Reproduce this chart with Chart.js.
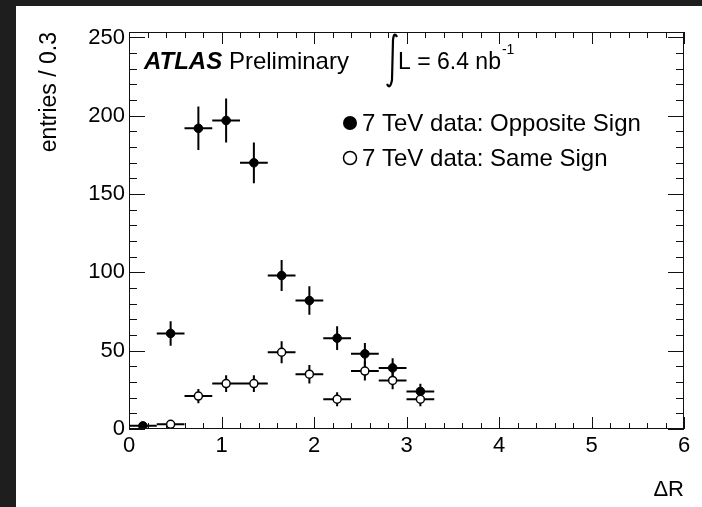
<!DOCTYPE html>
<html>
<head>
<meta charset="utf-8">
<script src="https://cdn.jsdelivr.net/npm/chart.js@4.4.1/dist/chart.umd.min.js"></script>
<style>
  html, body { margin: 0; padding: 0; background: #1e1e1e; overflow: hidden; }
  #c { position: absolute; left: 0; top: 0; }
</style>
</head>
<body>
<canvas id="c" width="702" height="507"></canvas>
<script>
// ΔR between the two leptons, entries per 0.3 bin
const binCenters   = [0.15, 0.45, 0.75, 1.05, 1.35, 1.65, 1.95, 2.25, 2.55, 2.85, 3.15];
const binHalfWidth = 0.15;
const oppositeSign    = [2, 61, 192, 197, 170, 98, 82, 58, 48, 39, 24];
const oppositeSignErr = [1.4, 7.8, 13.9, 14.0, 13.0, 9.9, 9.1, 7.6, 6.9, 6.2, 4.9];
const sameSign        = [null, 3, 21, 29, 29, 49, 35, 19, 37, 31, 19];
const sameSignErr     = [null, 1.7, 4.6, 5.4, 5.4, 7.0, 5.9, 4.4, 6.1, 5.6, 4.4];
const xTicks = [0, 1, 2, 3, 4, 5, 6];
const yTicks = [0, 50, 100, 150, 200, 250];
const seriesLabels = ['7 TeV data: Opposite Sign', '7 TeV data: Same Sign'];

const FONT = '"Liberation Sans", Arial, Helvetica, sans-serif';

function toPoints(values) {
  return binCenters.map((x, i) => ({ x: x, y: values[i] }));
}

// page backdrop: dark margin on the left and top, white pad elsewhere
const backdrop = {
  id: 'backdrop',
  beforeDraw(chart) {
    const ctx = chart.ctx;
    ctx.save();
    ctx.fillStyle = '#ffffff';
    ctx.fillRect(0, 0, chart.width, chart.height);
    ctx.fillStyle = '#1e1e1e';
    ctx.fillRect(0, 0, chart.width, 6);
    ctx.fillRect(0, 0, 16, chart.height);
    ctx.restore();
  }
};

// ROOT-style error bars: full bin width horizontally, ±err vertically
const errorBars = {
  id: 'errorBars',
  beforeDatasetsDraw(chart) {
    const ctx = chart.ctx;
    const xs = chart.scales.x, ys = chart.scales.y;
    ctx.save();
    ctx.strokeStyle = '#000';
    ctx.lineWidth = 2;
    chart.data.datasets.forEach(ds => {
      ds.data.forEach((p, i) => {
        if (p.y === null) return;
        const e = ds.errors[i];
        const cy = ys.getPixelForValue(p.y);
        const cx = xs.getPixelForValue(p.x);
        ctx.beginPath();
        ctx.moveTo(xs.getPixelForValue(p.x - binHalfWidth), cy);
        ctx.lineTo(xs.getPixelForValue(p.x + binHalfWidth), cy);
        ctx.moveTo(cx, ys.getPixelForValue(p.y - e));
        ctx.lineTo(cx, ys.getPixelForValue(p.y + e));
        ctx.stroke();
      });
    });
    ctx.restore();
  }
};

// frame, inward ticks on all four sides, and the text inside the pad
const frameAndText = {
  id: 'frameAndText',
  afterDraw(chart) {
    const ctx = chart.ctx;
    const { left, right, top, bottom } = chart.chartArea;
    const xs = chart.scales.x, ys = chart.scales.y;
    ctx.save();
    ctx.strokeStyle = '#111';
    ctx.lineWidth = 1;
    ctx.strokeRect(left + 0.5, top + 0.5, right - left - 1, bottom - top - 1);

    ctx.beginPath();
    // x axis: majors every 1, minors every 0.2
    for (let i = 0; i <= 30; i++) {
      const px = Math.round(xs.getPixelForValue(i * 0.2)) + 0.5;
      const len = (i % 5 === 0) ? 12 : 6;
      ctx.moveTo(px, bottom); ctx.lineTo(px, bottom - len);
      ctx.moveTo(px, top);    ctx.lineTo(px, top + len);
    }
    // y axis: majors every 50, minors every 10
    for (let i = 0; i <= 25; i++) {
      const py = Math.round(ys.getPixelForValue(i * 10)) + 0.5;
      const len = (i % 5 === 0) ? 16 : 8;
      ctx.moveTo(left, py);  ctx.lineTo(left + len, py);
      ctx.moveTo(right, py); ctx.lineTo(right - len, py);
    }
    ctx.stroke();

    // experiment label
    ctx.fillStyle = '#000';
    ctx.textBaseline = 'alphabetic';
    ctx.textAlign = 'left';
    ctx.font = 'italic bold 24px ' + FONT;
    ctx.fillText('ATLAS', 144, 69);
    const w = ctx.measureText('ATLAS ').width;
    ctx.font = '24px ' + FONT;
    ctx.fillText('Preliminary', 144 + w, 69);

    // integrated luminosity
    ctx.strokeStyle = '#000';
    ctx.lineWidth = 2.2;
    ctx.beginPath();
    ctx.moveTo(397, 37);
    ctx.quadraticCurveTo(394, 31, 393, 40);
    ctx.lineTo(392, 80);
    ctx.quadraticCurveTo(390, 90, 387, 84);
    ctx.stroke();
    ctx.font = '23px ' + FONT;
    ctx.fillText('L = 6.4 nb', 398, 69);
    const lw = ctx.measureText('L = 6.4 nb').width;
    ctx.font = '14px ' + FONT;
    ctx.fillText('-1', 398 + lw + 1, 54);

    // legend
    const rows = [
      { y: 123, filled: true,  text: seriesLabels[0] },
      { y: 158, filled: false, text: seriesLabels[1] }
    ];
    ctx.font = '24px ' + FONT;
    ctx.textBaseline = 'middle';
    rows.forEach(r => {
      ctx.beginPath();
      ctx.arc(350, r.y, r.filled ? 7 : 6.5, 0, Math.PI * 2);
      if (r.filled) { ctx.fillStyle = '#000'; ctx.fill(); }
      else { ctx.fillStyle = '#fff'; ctx.fill(); ctx.lineWidth = 1.5; ctx.strokeStyle = '#000'; ctx.stroke(); }
      ctx.fillStyle = '#000';
      ctx.fillText(r.text, 362, r.y + 1);
    });
    ctx.restore();
  }
};

new Chart(document.getElementById('c'), {
  type: 'scatter',
  data: {
    datasets: [
      {
        label: seriesLabels[0],
        data: toPoints(oppositeSign),
        errors: oppositeSignErr,
        backgroundColor: '#000',
        borderColor: '#000',
        borderWidth: 1,
        pointRadius: 4.3,
        order: 2
      },
      {
        label: seriesLabels[1],
        data: toPoints(sameSign),
        errors: sameSignErr,
        backgroundColor: '#fff',
        borderColor: '#000',
        borderWidth: 1.5,
        pointRadius: 4,
        order: 1
      }
    ]
  },
  options: {
    responsive: false,
    devicePixelRatio: 1,
    animation: false,
    events: [],
    layout: { padding: { left: 0, right: 18, top: 32, bottom: 0 } },
    plugins: { legend: { display: false }, tooltip: { enabled: false } },
    scales: {
      x: {
        type: 'linear',
        min: 0, max: 6,
        afterBuildTicks(scale) { scale.ticks = xTicks.map(v => ({ value: v })); },
        afterFit(scale) { scale.height = 78; },
        grid: { display: false, drawTicks: false },
        border: { display: false },
        ticks: { color: '#000', font: { family: FONT, size: 22 }, padding: 4, maxRotation: 0, autoSkip: false },
        title: { display: true, text: 'ΔR', align: 'end', color: '#000',
                 font: { family: FONT, size: 22 }, padding: { top: 0, bottom: 4 } }
      },
      y: {
        type: 'linear',
        min: 0, max: 253.5,
        afterBuildTicks(scale) { scale.ticks = yTicks.map(v => ({ value: v })); },
        afterFit(scale) { scale.width = 129; },
        grid: { display: false, drawTicks: false },
        border: { display: false },
        ticks: { color: '#000', font: { family: FONT, size: 22 }, padding: 4, autoSkip: false },
        title: { display: true, text: 'entries / 0.3', align: 'end', color: '#000',
                 font: { family: FONT, size: 23 }, padding: { top: 36, bottom: 0 } }
      }
    }
  },
  plugins: [backdrop, errorBars, frameAndText]
});
</script>
</body>
</html>
